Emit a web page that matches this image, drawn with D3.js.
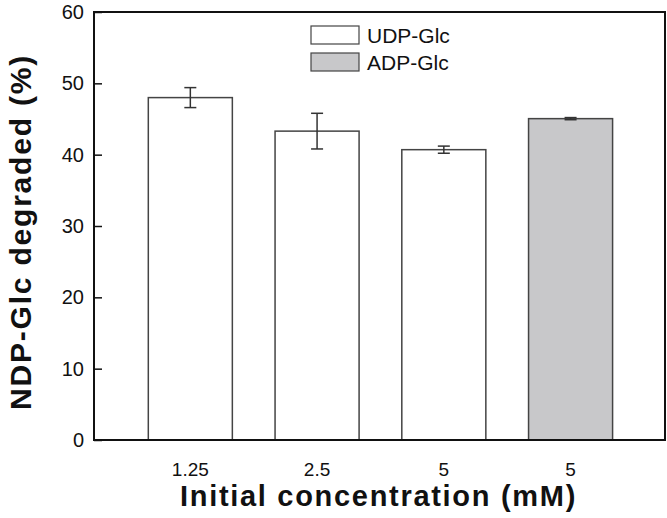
<!DOCTYPE html>
<html>
<head>
<meta charset="utf-8">
<script src="https://cdn.jsdelivr.net/npm/d3@7"></script>
<style>
  body { margin: 0; background: #fff; }
  text { font-family: "Liberation Sans", Arial, sans-serif; }
</style>
</head>
<body>
<div id="chart"></div>
<script>
const categories = ["1.25", "2.5", "5", "5"];
const series = ["UDP-Glc", "UDP-Glc", "UDP-Glc", "ADP-Glc"];
const values = [48.0, 43.3, 40.7, 45.05];
const errors = [1.4, 2.5, 0.5, 0.15];
const yTicks = [0, 10, 20, 30, 40, 50, 60];
const legendItems = ["UDP-Glc", "ADP-Glc"];

const width = 667, height = 518;
const plotL = 94, plotR = 665, plotT = 12, plotB = 440;
const fillOf = { "UDP-Glc": "#ffffff", "ADP-Glc": "#c8c8ca" };

const svg = d3.select("#chart").append("svg")
  .attr("width", width)
  .attr("height", height);

const x = d3.scaleLinear().domain([-0.76, 3.745]).range([plotL, plotR]);
const y = d3.scaleLinear().domain([0, 60]).range([plotB, plotT]);
const barW = x(0.663) - x(0);

// bars
svg.selectAll(".bar")
  .data(values)
  .enter().append("rect")
  .attr("class", "bar")
  .attr("x", (d, i) => x(i) - barW / 2)
  .attr("y", d => y(d))
  .attr("width", barW)
  .attr("height", d => y(0) - y(d))
  .attr("fill", (d, i) => fillOf[series[i]])
  .attr("stroke", "#444")
  .attr("stroke-width", 1.5);

// error bars
const eb = svg.selectAll(".err")
  .data(values)
  .enter().append("g")
  .attr("class", "err")
  .attr("stroke", "#333")
  .attr("stroke-width", 1.5);
eb.append("line")
  .attr("x1", (d, i) => x(i)).attr("x2", (d, i) => x(i))
  .attr("y1", (d, i) => y(d + errors[i])).attr("y2", (d, i) => y(d - errors[i]));
eb.append("line")
  .attr("x1", (d, i) => x(i) - 6).attr("x2", (d, i) => x(i) + 6)
  .attr("y1", (d, i) => y(d + errors[i])).attr("y2", (d, i) => y(d + errors[i]));
eb.append("line")
  .attr("x1", (d, i) => x(i) - 6).attr("x2", (d, i) => x(i) + 6)
  .attr("y1", (d, i) => y(d - errors[i])).attr("y2", (d, i) => y(d - errors[i]));

// frame
svg.append("rect")
  .attr("x", plotL).attr("y", plotT)
  .attr("width", plotR - plotL).attr("height", plotB - plotT)
  .attr("fill", "none")
  .attr("stroke", "#111")
  .attr("stroke-width", 2);

// y axis, ticks inward
const yAxis = d3.axisRight(y)
  .tickValues(yTicks)
  .tickSize(8)
  .tickFormat("");
svg.append("g")
  .attr("transform", `translate(${plotL},0)`)
  .call(yAxis)
  .call(g => g.select(".domain").remove())
  .call(g => g.selectAll(".tick line").attr("stroke", "#111").attr("stroke-width", 1.5));

svg.selectAll(".ylab")
  .data(yTicks)
  .enter().append("text")
  .attr("class", "ylab")
  .attr("x", plotL - 10)
  .attr("y", d => y(d))
  .attr("dy", "0.35em")
  .attr("text-anchor", "end")
  .attr("font-size", 20)
  .attr("fill", "#111")
  .text(d => d);

// x labels
svg.selectAll(".xlab")
  .data(categories)
  .enter().append("text")
  .attr("class", "xlab")
  .attr("x", (d, i) => x(i))
  .attr("y", 476)
  .attr("text-anchor", "middle")
  .attr("font-size", 19)
  .attr("fill", "#111")
  .text(d => d);

// axis titles
svg.append("text")
  .attr("x", (plotL + plotR) / 2 - 1)
  .attr("y", 506)
  .attr("text-anchor", "middle")
  .attr("font-size", 29)
  .attr("letter-spacing", 1.7)
  .attr("font-weight", "bold")
  .attr("fill", "#111")
  .text("Initial concentration (mM)");

svg.append("text")
  .attr("transform", `translate(31,${(plotT + plotB) / 2 + 6}) rotate(-90)`)
  .attr("text-anchor", "middle")
  .attr("font-size", 30)
  .attr("letter-spacing", 1.8)
  .attr("font-weight", "bold")
  .attr("fill", "#111")
  .text("NDP-Glc degraded (%)");

// legend
const lg = svg.selectAll(".legend")
  .data(legendItems)
  .enter().append("g")
  .attr("class", "legend")
  .attr("transform", (d, i) => `translate(311,${26 + i * 27})`);
lg.append("rect")
  .attr("width", 48).attr("height", 18)
  .attr("fill", d => fillOf[d])
  .attr("stroke", "#444")
  .attr("stroke-width", 1.2);
lg.append("text")
  .attr("x", 56).attr("y", 9)
  .attr("dy", "0.36em")
  .attr("font-size", 21)
  .attr("fill", "#111")
  .text(d => d);
</script>
</body>
</html>
